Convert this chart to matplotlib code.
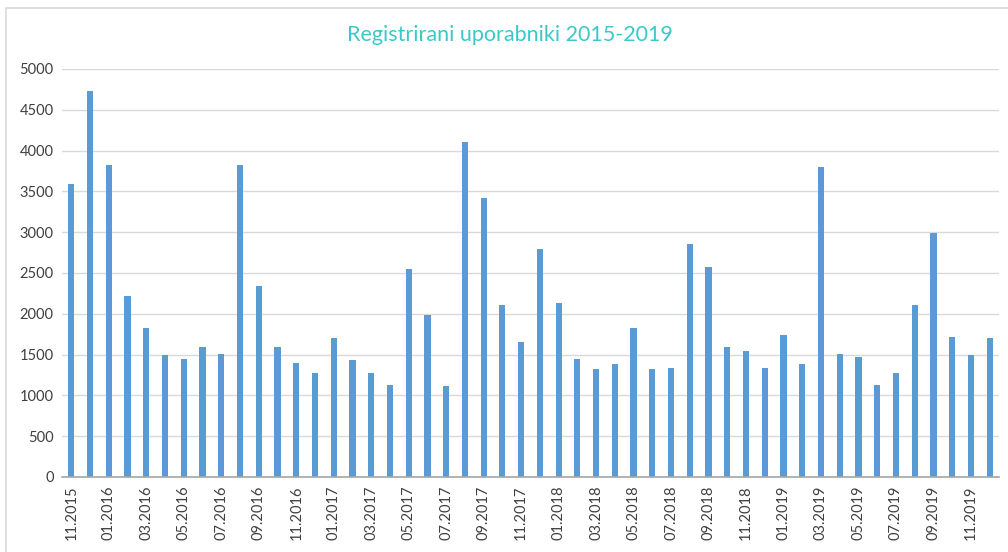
import numpy as np
import matplotlib.pyplot as plt
from matplotlib.patches import Rectangle

months = ['11.2015', '12.2015',
          '01.2016', '02.2016', '03.2016', '04.2016', '05.2016', '06.2016',
          '07.2016', '08.2016', '09.2016', '10.2016', '11.2016', '12.2016',
          '01.2017', '02.2017', '03.2017', '04.2017', '05.2017', '06.2017',
          '07.2017', '08.2017', '09.2017', '10.2017', '11.2017', '12.2017',
          '01.2018', '02.2018', '03.2018', '04.2018', '05.2018', '06.2018',
          '07.2018', '08.2018', '09.2018', '10.2018', '11.2018', '12.2018',
          '01.2019', '02.2019', '03.2019', '04.2019', '05.2019', '06.2019',
          '07.2019', '08.2019', '09.2019', '10.2019', '11.2019', '12.2019']
users = [3590, 4730,
         3820, 2220, 1820, 1490, 1450, 1590, 1510, 3820, 2340, 1590, 1400, 1280,
         1700, 1430, 1280, 1130, 2550, 1990, 1110, 4110, 3420, 2110, 1650, 2800,
         2130, 1450, 1320, 1390, 1820, 1320, 1340, 2860, 2570, 1590, 1550, 1340,
         1740, 1390, 3800, 1510, 1470, 1130, 1280, 2110, 2990, 1720, 1490, 1700]
yticks = [0, 500, 1000, 1500, 2000, 2500, 3000, 3500, 4000, 4500, 5000]

plt.rcParams['font.family'] = ['Lato', 'DejaVu Sans']

fig = plt.figure(figsize=(10.08, 5.52), dpi=100)
fig.patches.append(Rectangle((5.5 / 1008, -0.01), 1.1, 1 - 7.5 / 552 + 0.01,
                             transform=fig.transFigure, fill=False,
                             edgecolor='#d9d9d9', linewidth=1.2))
ax = fig.add_axes([62 / 1008, 1 - 477 / 552, (999 - 62) / 1008, (477 - 69) / 552])

x = np.arange(len(months))
ax.bar(x, users, width=0.33, color='#5b9bd5', zorder=3)

ax.set_xlim(-0.5, len(months) - 0.5)
ax.set_ylim(0, 5000)
ax.set_yticks(yticks)
ax.set_yticklabels([str(v) for v in yticks], fontsize=10.5, color='#404040')
ax.set_xticks(x[::2])
ax.set_xticklabels(months[::2], rotation=90, fontsize=10.5, color='#404040')
ax.tick_params(axis='both', length=0, pad=6)
ax.grid(axis='y', color='#d9d9d9', linewidth=1, zorder=0)
for s in ['top', 'right', 'left']:
    ax.spines[s].set_visible(False)
ax.spines['bottom'].set_color('#a6a6a6')
ax.spines['bottom'].set_linewidth(1.2)
ax.spines['bottom'].set_zorder(4)

fig.text(510 / 1008, 1 - 35 / 552, 'Registrirani uporabniki 2015-2019',
         ha='center', va='center', fontsize=15.5, color='#3cc8c8')

fig.savefig('out.png', dpi=100)
